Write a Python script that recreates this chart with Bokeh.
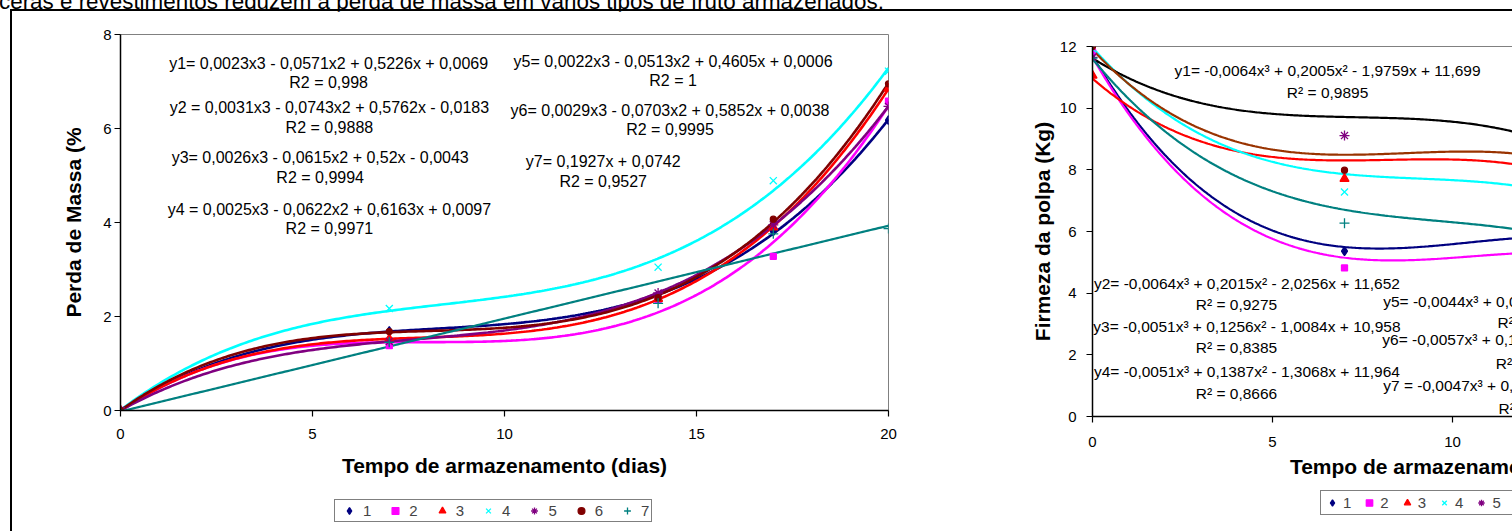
import numpy as np
from bokeh.plotting import figure
from bokeh.models import (Range1d, FixedTicker, Label, Legend, LegendItem, Div,
                          GlobalInlineStyleSheet)
from bokeh.layouts import column, row
from bokeh.embed import file_html
from bokeh.resources import INLINE

FONT = "Liberation Sans"

# ---------------- data: left chart (Perda de Massa, %) ----------------
days = [0, 7, 14, 17, 20]
perda_1 = [0.0, 1.69, 2.43, 3.81, 6.18]
perda_2 = [0.0, 1.38, 2.35, 3.28, 6.58]
perda_3 = [0.0, 1.52, 2.38, 3.90, 6.85]
perda_4 = [0.0, 2.17, 3.05, 4.89, 7.22]
perda_5 = [0.0, 1.47, 2.50, 3.95, 6.47]
perda_6 = [0.0, 1.68, 2.40, 4.07, 6.95]
perda_7 = [0.0, 1.45, 2.28, 3.76, 3.87]
perda_trend_degree = [3, 3, 3, 3, 3, 3, 1]

perda_eq = [
    "y1= 0,0023x3 - 0,0571x2 + 0,5226x + 0,0069",
    "y2 = 0,0031x3 - 0,0743x2 + 0,5762x - 0,0183",
    "y3= 0,0026x3 - 0,0615x2 + 0,52x - 0,0043",
    "y4 = 0,0025x3 - 0,0622x2 + 0,6163x + 0,0097",
    "y5= 0,0022x3 - 0,0513x2 + 0,4605x + 0,0006",
    "y6= 0,0029x3 - 0,0703x2 + 0,5852x + 0,0038",
    "y7= 0,1927x + 0,0742",
]
perda_r2 = ["R2 = 0,998", "R2 = 0,9888", "R2 = 0,9994", "R2 = 0,9971",
            "R2 = 1", "R2 = 0,9995", "R2 = 0,9527"]

# ---------------- data: right chart (Firmeza da polpa, Kg) ----------------
days_firmeza = [0, 7]
firm_1 = [11.75, 5.36]
firm_2 = [11.82, 4.82]
firm_3 = [11.06, 7.71]
firm_4 = [11.93, 7.28]
firm_5 = [11.65, 9.11]
firm_6 = [12.00, 7.99]
firm_7 = [11.62, 6.27]

# trendline coefficients (x^3, x^2, x, constant)
firm_tl_1 = [-0.0064, 0.2005, -1.9759, 11.699]
firm_tl_2 = [-0.0064, 0.2015, -2.0256, 11.652]
firm_tl_3 = [-0.0051, 0.1256, -1.0084, 10.958]
firm_tl_4 = [-0.0051, 0.1387, -1.3068, 11.964]
firm_tl_5 = [-0.0044, 0.0969, -0.7350, 11.620]
firm_tl_6 = [-0.0057, 0.1490, -1.2510, 11.900]
firm_tl_7 = [-0.0047, 0.1363, -1.4230, 11.600]

firm_eq = [
    "y1= -0,0064x³ + 0,2005x² - 1,9759x + 11,699",
    "y2= -0,0064x³ + 0,2015x² - 2,0256x + 11,652",
    "y3= -0,0051x³ + 0,1256x² - 1,0084x + 10,958",
    "y4= -0,0051x³ + 0,1387x² - 1,3068x + 11,964",
    "y5= -0,0044x³ + 0,0969x² - 0,735x + 11,62",
    "y6= -0,0057x³ + 0,149x² - 1,251x + 11,9",
    "y7 = -0,0047x³ + 0,1363x² - 1,423x + 11,6",
]
firm_r2 = ["R² = 0,9895", "R² = 0,9275", "R² = 0,8385", "R² = 0,8666",
           "R² = 0,9012", "R² = 0,9644", "R² = 0,9423"]

series_labels = ["1", "2", "3", "4", "5", "6", "7"]

# ---------------- styles ----------------
markers = ["diamond", "square", "triangle", "x", "asterisk", "circle", "cross"]
msizes = [9, 6, 9, 10, 10, 6, 10]
colors = ["#000080", "#FF00FF", "#FF0000", "#00FFFF", "#800080", "#800000", "#008080"]
firm_line_colors = ["#000080", "#FF00FF", "#FF0000", "#00FFFF", "#000000", "#993300", "#008080"]


def style_axes(p):
    p.grid.visible = False
    for ax in (p.xaxis[0], p.yaxis[0]):
        ax.axis_line_color = "black"
        ax.axis_line_width = 1.5
        ax.major_tick_line_color = "black"
        ax.major_tick_line_width = 1.2
        ax.major_tick_out = 6
        ax.major_tick_in = 0
        ax.minor_tick_line_color = None
        ax.major_label_text_font = FONT
        ax.major_label_text_font_size = "15px"
        ax.major_label_text_color = "black"
        ax.axis_label_text_font = FONT
        ax.axis_label_text_font_size = "21px"
        ax.axis_label_text_font_style = "bold"
        ax.axis_label_text_color = "black"


def legend_figure(width, height, xs, series, location, padding, spacing, glyph_w, glyph_h,
                  standoff):
    # a strip below the chart that only holds the chart's legend; its ranges keep the
    # series' points out of view so that only the legend swatches show
    lf = figure(width=width, height=height, x_range=Range1d(-2, -1), y_range=Range1d(-2, -1),
                title=None, output_backend="svg", toolbar_location=None,
                x_axis_location=None, y_axis_location=None, min_border=0,
                background_fill_color="white", border_fill_color="white")
    lf.outline_line_color = None
    lf.grid.visible = False
    rs = [lf.scatter(xs, series[i], marker=markers[i], size=msizes[i], fill_color=colors[i],
                     line_color=colors[i], line_width=1.3) for i in range(7)]
    leg = Legend(items=[LegendItem(label=series_labels[i], renderers=[rs[i]]) for i in range(7)],
                 location=location, orientation="horizontal",
                 border_line_color="black", border_line_width=1,
                 background_fill_color="white", background_fill_alpha=1,
                 label_text_font=FONT, label_text_font_size="15px",
                 padding=padding, spacing=spacing, margin=0,
                 glyph_width=glyph_w, glyph_height=glyph_h, label_height=glyph_h,
                 label_width=8, label_standoff=standoff)
    lf.add_layout(leg)
    return lf


# ================= left chart =================
p1 = figure(width=923, height=479, x_range=Range1d(0, 20), y_range=Range1d(0, 8),
            title=None, output_backend="svg", toolbar_location=None,
            min_border_left=108, min_border_right=47, min_border_top=23, min_border_bottom=80,
            background_fill_color="white", border_fill_color="white")
p1.outline_line_color = "#808080"
p1.outline_line_width = 1
style_axes(p1)
p1.xaxis.ticker = FixedTicker(ticks=[0, 5, 10, 15, 20])
p1.yaxis.ticker = FixedTicker(ticks=[0, 2, 4, 6, 8])
p1.xaxis.axis_label = "Tempo de armazenamento (dias)"
p1.yaxis.axis_label = "Perda de Massa (%"
p1.xaxis.major_label_standoff = 12
p1.yaxis.major_label_standoff = 3
p1.xaxis.axis_label_standoff = 12
p1.yaxis.axis_label_standoff = 15

perda_series = [perda_1, perda_2, perda_3, perda_4, perda_5, perda_6, perda_7]
xs_dense = np.linspace(0, 20, 300)
for i, ys in enumerate(perda_series):
    coef = np.polyfit(days, ys, perda_trend_degree[i])
    p1.line(xs_dense, np.polyval(coef, xs_dense), line_color=colors[i],
            line_width=2.6 if i < 6 else 2.2)

for i, ys in enumerate(perda_series):
    p1.scatter(days, ys, marker=markers[i], size=msizes[i],
               fill_color=colors[i], line_color=colors[i], line_width=1.3)

# equation labels (x, y in data units)
perda_eq_pos = [(5.42, 7.39), (5.44, 6.45), (5.20, 5.39), (5.44, 4.28),
                (14.39, 7.43), (14.31, 6.38), (12.57, 5.30)]
perda_r2_pos = [(5.42, 6.98), (5.44, 6.02), (5.20, 4.96), (5.44, 3.87),
                (14.39, 7.02), (14.31, 5.98), (12.57, 4.87)]
for txt, (x, y) in zip(perda_eq, perda_eq_pos):
    p1.add_layout(Label(x=x, y=y, text=txt, text_align="center", text_baseline="middle",
                        text_font=FONT, text_font_size="16px", text_color="black"))
for txt, (x, y) in zip(perda_r2, perda_r2_pos):
    p1.add_layout(Label(x=x, y=y, text=txt, text_align="center", text_baseline="middle",
                        text_font=FONT, text_font_size="16px", text_color="black"))

leg_fig1 = legend_figure(923, 41, days, perda_series, (214, 9), padding=2, spacing=12,
                         glyph_w=24, glyph_h=17, standoff=2)

# ================= right chart (continues past the window edge) =================
p2 = figure(width=887, height=479, x_range=Range1d(0, 20), y_range=Range1d(0, 12),
            title=None, output_backend="svg", toolbar_location=None,
            min_border_left=157, min_border_right=10, min_border_top=35, min_border_bottom=74,
            background_fill_color="white", border_fill_color="white")
p2.outline_line_color = "#808080"
p2.outline_line_width = 1
style_axes(p2)
p2.xaxis.ticker = FixedTicker(ticks=[0, 5, 10, 15, 20])
p2.yaxis.ticker = FixedTicker(ticks=[0, 2, 4, 6, 8, 10, 12])
p2.xaxis.axis_label = "Tempo de armazenamento (dias)"
p2.yaxis.axis_label = "Firmeza da polpa (Kg)"
p2.xaxis.major_label_standoff = 14
p2.yaxis.major_label_standoff = 10
p2.xaxis.axis_label_standoff = 5
p2.yaxis.axis_label_standoff = 3

firm_series = [firm_1, firm_2, firm_3, firm_4, firm_5, firm_6, firm_7]
firm_tl = [firm_tl_1, firm_tl_2, firm_tl_3, firm_tl_4, firm_tl_5, firm_tl_6, firm_tl_7]
xs2 = np.linspace(0, 20, 400)
for i, coef in enumerate(firm_tl):
    p2.line(xs2, np.polyval(coef, xs2), line_color=firm_line_colors[i], line_width=2.2)

for i, ys in enumerate(firm_series):
    p2.scatter(days_firmeza, ys, marker=markers[i], size=msizes[i],
               fill_color=colors[i], line_color=colors[i], line_width=1.3)

firm_eq_pos = [(6.53, 11.22, "center"), (4.29, 4.31, "center"), (4.29, 2.92, "center"),
               (4.29, 1.47, "center"), (8.075, 3.73, "left"), (8.05, 2.49, "left"),
               (8.075, 1.01, "left")]
firm_r2_pos = [(6.53, 10.52, "center"), (4.0, 3.63, "center"), (4.0, 2.24, "center"),
               (4.0, 0.75, "center"), (11.25, 3.06, "left"), (11.20, 1.73, "left"),
               (11.28, 0.25, "left")]
for txt, (x, y, al) in zip(firm_eq, firm_eq_pos):
    p2.add_layout(Label(x=x, y=y, text=txt, text_align=al, text_baseline="middle",
                        text_font=FONT, text_font_size="15.5px", text_color="black"))
for txt, (x, y, al) in zip(firm_r2, firm_r2_pos):
    p2.add_layout(Label(x=x, y=y, text=txt, text_align=al, text_baseline="middle",
                        text_font=FONT, text_font_size="15.5px", text_color="black"))

leg_fig2 = legend_figure(887, 41, days_firmeza, firm_series, (228, 16), padding=3, spacing=10,
                         glyph_w=16, glyph_h=17, standoff=3)

# ================= page frame =================
top_text = Div(
    text='<div style="position:absolute; left:-1px; top:-9px; white-space:nowrap; '
         'font-family:\'Liberation Sans\',Arial,sans-serif; font-size:22.4px; line-height:22px; '
         'color:#000;">ceras e revestimentos reduzem a perda de massa em vários tipos de fruto armazenados.</div>',
    width=1512, height=9, margin=(0, 0, 0, 0))
hline = Div(text="", width=1502, height=2, margin=(0, 0, 0, 10),
            styles={"background-color": "black"})
vline = Div(text="", width=2, height=520, margin=(0, 0, 0, 10),
            styles={"background-color": "black"})

layout = column(top_text, hline,
                row(vline, column(p1, leg_fig1, spacing=0), column(p2, leg_fig2, spacing=0),
                    spacing=0),
                spacing=0)
layout.stylesheets = [GlobalInlineStyleSheet(css="html, body { overflow: hidden !important; margin: 0; }")]

open("out.html", "w").write(file_html(layout, INLINE))
